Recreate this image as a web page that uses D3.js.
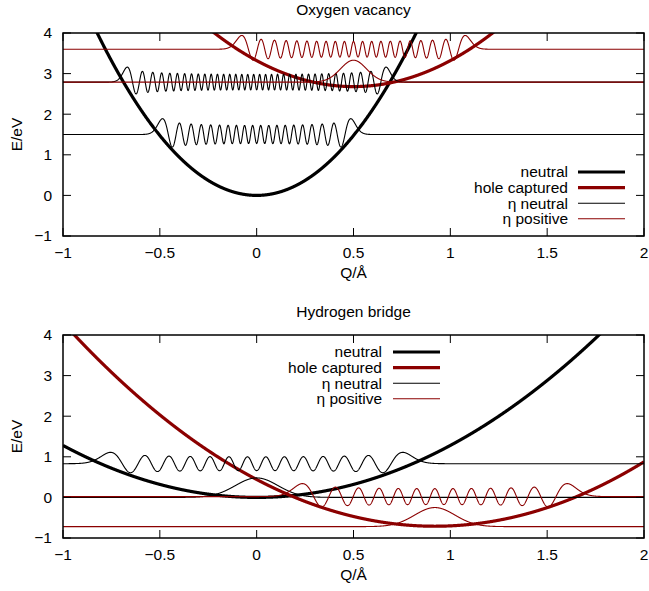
<!DOCTYPE html>
<html>
<head>
<meta charset="utf-8" />
<title>Configuration coordinate diagrams</title>
<style>
  body { margin: 0; background: #fff; }
  text { font-family: "Liberation Sans", Arial, sans-serif; font-size: 15.5px; fill: #000; }
</style>
</head>
<body>
<svg width="649" height="591"></svg>

<script src="https://cdn.jsdelivr.net/npm/d3@7"></script>
<script>

// axes
var qDomain = [-1, 2];
var eDomain = [-1, 4];
var qTicks = [-1, -0.5, 0, 0.5, 1, 1.5, 2];
var eTicks = [-1, 0, 1, 2, 3, 4];
var panelTitles = ['Oxygen vacancy', 'Hydrogen bridge'];
var legendLabels = ['neutral', 'hole captured', '\u03b7 neutral', '\u03b7 positive'];

// potential curves: [neutral, hole captured]  E = min + curv * (Q - centre)^2
var ovPotCentre = [0, 0.5];
var ovPotMin = [0, 2.68];
var ovPotCurv = [5.9, 2.56];
var hbPotCentre = [0, 0.92];
var hbPotMin = [0, -0.71];
var hbPotCurv = [1.28, 1.36];

// vibrational states (eta): level, quantum number, amplitude
var ovNeutralLevel = [1.5, 2.79];
var ovNeutralN = [38, 70];
var ovNeutralAmp = [0.39, 0.37];
var ovPositiveLevel = [2.79, 3.6];
var ovPositiveN = [0, 40];
var ovPositiveAmp = [0.54, 0.34];

var hbNeutralLevel = [0.0, 0.83];
var hbNeutralN = [0, 26];
var hbNeutralAmp = [0.48, 0.28];
var hbPositiveLevel = [-0.72, 0.02];
var hbPositiveN = [0, 24];
var hbPositiveAmp = [0.47, 0.32];

// oscillator width (sigma) of each well
var ovSigma = [0.058, 0.067];
var hbSigma = [0.11, 0.104];

var RED = '#8b0000';

var panels = [
    { title: panelTitles[0], top: 33, bottom: 236,
      centre: ovPotCentre, min: ovPotMin, curv: ovPotCurv, sigma: ovSigma,
      states: [
        { level: ovNeutralLevel, n: ovNeutralN, amp: ovNeutralAmp, well: 0 },
        { level: ovPositiveLevel, n: ovPositiveN, amp: ovPositiveAmp, well: 1 }],
      legend: { textRight: 568, lineX: [578, 625], y: 172 } },
    { title: panelTitles[1], top: 335, bottom: 538,
      centre: hbPotCentre, min: hbPotMin, curv: hbPotCurv, sigma: hbSigma,
      states: [
        { level: hbNeutralLevel, n: hbNeutralN, amp: hbNeutralAmp, well: 0 },
        { level: hbPositiveLevel, n: hbPositiveN, amp: hbPositiveAmp, well: 1 }],
      legend: { textRight: 382, lineX: [393, 440], y: 352 } }
];

var left = 63, right = 644;
var svg = d3.select('svg');
svg.append('rect').attr('width', 649).attr('height', 591).attr('fill', '#fff');

var qs = d3.range(0, 3001).map(function (i) { return qDomain[0] + i * (qDomain[1] - qDomain[0]) / 3000; });

// harmonic oscillator eigenfunction via the normalised recursion
function hoWave(n, xi) {
    var p0 = Math.pow(Math.PI, -0.25) * Math.exp(-xi * xi / 2);
    if (n === 0) return p0;
    var p1 = Math.SQRT2 * xi * p0;
    for (var k = 1; k < n; k++) {
        var p2 = Math.sqrt(2 / (k + 1)) * xi * p1 - Math.sqrt(k / (k + 1)) * p0;
        p0 = p1; p1 = p2;
    }
    return p1;
}

function fmt(v) { return v < 0 ? '\u2212' + Math.abs(v) : String(v); }

panels.forEach(function (p, pi) {
    var x = d3.scaleLinear().domain(qDomain).range([left, right]);
    var y = d3.scaleLinear().domain(eDomain).range([p.bottom, p.top]);
    var line = d3.line().x(function (d) { return x(d[0]); }).y(function (d) { return y(d[1]); });

    var clipId = 'clip' + pi;
    svg.append('clipPath').attr('id', clipId)
        .append('rect').attr('x', left).attr('y', p.top)
        .attr('width', right - left).attr('height', p.bottom - p.top);

    var g = svg.append('g');
    var plot = g.append('g').attr('clip-path', 'url(#' + clipId + ')');

    // potential curves
    [0, 1].forEach(function (w) {
        var pts = qs.map(function (q) {
            var dq = q - p.centre[w];
            return [q, p.min[w] + p.curv[w] * dq * dq];
        });
        plot.append('path').attr('d', line(pts))
            .attr('fill', 'none')
            .attr('stroke', w === 0 ? '#000' : RED)
            .attr('stroke-width', 3.2);
    });

    // vibrational states
    p.states.forEach(function (s) {
        s.level.forEach(function (lev, i) {
            var c = p.centre[s.well], sig = p.sigma[s.well];
            var psi = qs.map(function (q) { return hoWave(s.n[i], (q - c) / sig); });
            var m = d3.max(psi, function (v) { return Math.abs(v); });
            var pts = qs.map(function (q, j) { return [q, lev + s.amp[i] * psi[j] / m]; });
            plot.append('path').attr('d', line(pts))
                .attr('fill', 'none')
                .attr('stroke', s.well === 0 ? '#000' : RED)
                .attr('stroke-width', 1.1);
        });
    });

    // frame and ticks (inward on all sides)
    g.append('rect').attr('x', left).attr('y', p.top)
        .attr('width', right - left).attr('height', p.bottom - p.top)
        .attr('fill', 'none').attr('stroke', '#000').attr('stroke-width', 1.5);

    var tl = 8;
    qTicks.forEach(function (t) {
        g.append('line').attr('x1', x(t)).attr('x2', x(t)).attr('y1', p.bottom).attr('y2', p.bottom - tl).attr('stroke', '#000');
        g.append('line').attr('x1', x(t)).attr('x2', x(t)).attr('y1', p.top).attr('y2', p.top + tl).attr('stroke', '#000');
        g.append('text').attr('x', x(t)).attr('y', p.bottom + 22)
            .attr('text-anchor', 'middle').text(fmt(t));
    });
    eTicks.forEach(function (t) {
        g.append('line').attr('x1', left).attr('x2', left + tl).attr('y1', y(t)).attr('y2', y(t)).attr('stroke', '#000');
        g.append('line').attr('x1', right).attr('x2', right - tl).attr('y1', y(t)).attr('y2', y(t)).attr('stroke', '#000');
        g.append('text').attr('x', 52).attr('y', y(t)).attr('dy', '0.35em')
            .attr('text-anchor', 'end').text(fmt(t));
    });

    // titles and axis labels
    g.append('text').attr('x', (left + right) / 2).attr('y', p.top - 18)
        .attr('text-anchor', 'middle').text(p.title);
    g.append('text').attr('x', (left + right) / 2).attr('y', p.bottom + 37).attr('dy', '0.35em')
        .attr('text-anchor', 'middle').text('Q/\u00c5');
    g.append('text').attr('transform', 'translate(17,' + (p.top + p.bottom) / 2 + ') rotate(-90)')
        .attr('dy', '0.35em').attr('text-anchor', 'middle').text('E/eV');

    // legend
    legendLabels.forEach(function (lab, i) {
        var ly = p.legend.y + i * 15.6;
        g.append('text').attr('x', p.legend.textRight).attr('y', ly).attr('dy', '0.35em')
            .attr('text-anchor', 'end').text(lab);
        g.append('line').attr('x1', p.legend.lineX[0]).attr('x2', p.legend.lineX[1])
            .attr('y1', ly).attr('y2', ly)
            .attr('stroke', i % 2 === 0 ? '#000' : RED)
            .attr('stroke-width', i < 2 ? 3.2 : 1.1);
    });
});
</script>
</body>
</html>
